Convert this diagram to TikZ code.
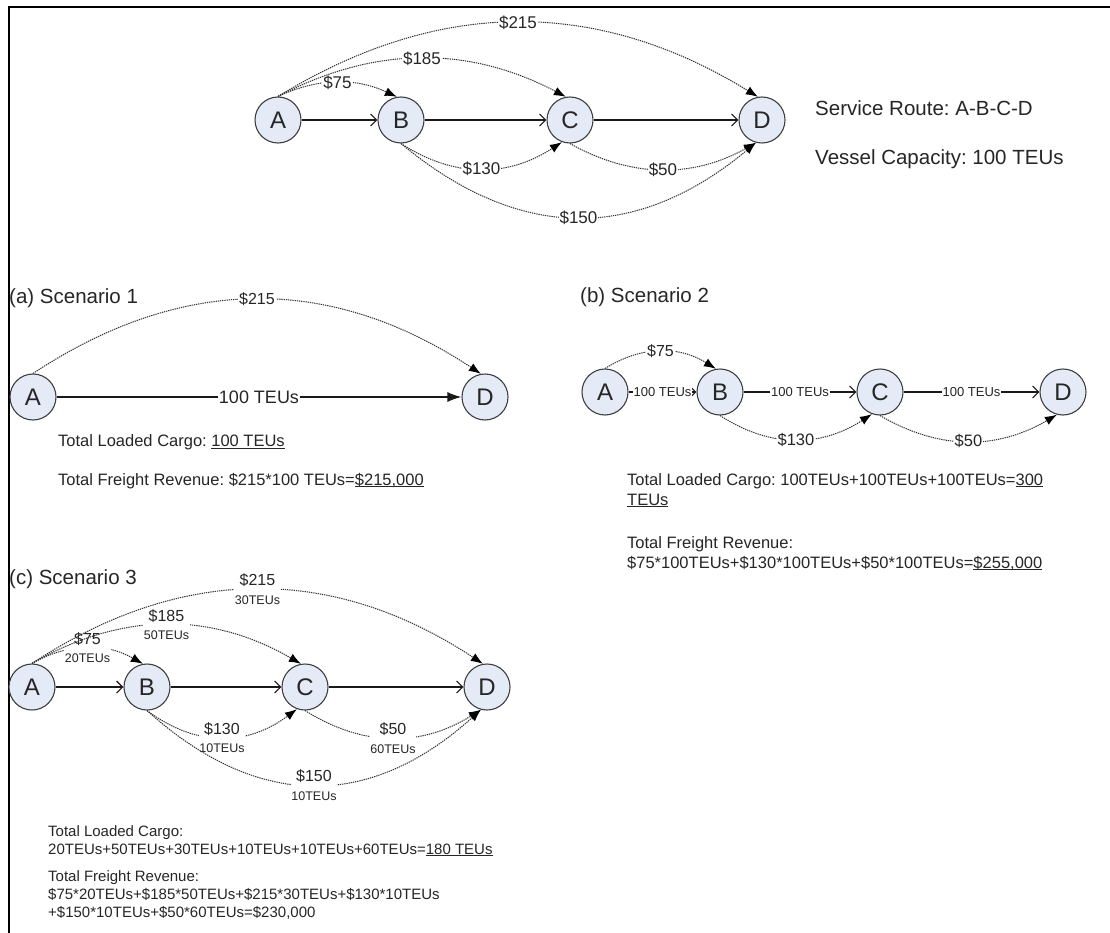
\documentclass[tikz,border=0pt]{standalone}
\usepackage{fontspec}
\setmainfont{Liberation Sans}
\usetikzlibrary{arrows.meta}
\frenchspacing

\definecolor{portfill}{RGB}{228,234,246}
\definecolor{portline}{RGB}{64,64,64}
\definecolor{ink}{RGB}{38,38,38}
\definecolor{dots}{RGB}{50,50,50}

\newcommand{\fsz}[2]{\fontsize{#1}{#2}\selectfont}
% underline sitting just under the baseline
\newcommand{\ulin}[1]{\sbox0{#1}\rlap{\rule[-2.4pt]{\wd0}{1.1pt}}\usebox0}

\tikzset{
  port/.style={circle, draw=portline, fill=portfill, line width=1.1pt,
    minimum size=46pt, inner sep=0pt, text=ink, font=\fsz{24}{28}},
  route/.style={line width=1.3pt, draw=black!90,
    -{Straight Barb[length=6pt,width=12pt,line width=1.2pt]}},
  routebold/.style={line width=1.5pt, draw=black!90, -{Latex[length=14pt,width=10pt]}},
  fare/.style={dash pattern=on 1.3pt off 0.9pt, line width=1pt, draw=dots,
    -{Latex[length=12pt,width=9pt,fill=black,color=black]}},
  tag/.style={fill=white, inner sep=1pt, text=ink, font=\fsz{17}{19}},
  tagsmall/.style={tag, font=\fsz{13}{15}},
  tagpair/.style={fill=white, inner sep=0.5pt, align=center, text=ink, font=\fsz{16}{18.5}},
  heading/.style={anchor=base west, inner sep=0pt, text=ink, font=\fsz{20.5}{24}},
  note/.style={anchor=base west, inner sep=0pt, text=ink, font=\fsz{16.5}{20}},
  notesmall/.style={note, font=\fsz{15}{18}},
}

\begin{document}
\begin{tikzpicture}[x=1pt, y=-1pt]
\fill[white] (0,0) rectangle (1110,933);
\useasboundingbox (0,0) rectangle (1110,933);

% frame
\draw[line width=2pt] (8.7,940) -- (8.7,7.3) -- (1115,7.3);

% ---------- service route ----------
\node[port] (A0) at (278,120) {A};
\node[port] (B0) at (401,120) {B};
\node[port] (C0) at (570,120) {C};
\node[port] (D0) at (762,120) {D};
\draw[route] (A0) -- (B0);
\draw[route] (B0) -- (C0);
\draw[route] (C0) -- (D0);
\draw[fare] (A0.north) .. controls +(41,-19) and +(-41,-19) .. (B0.100) node[tag,pos=0.5] {\$75};
\draw[fare] (A0.north) .. controls +(97,-51) and +(-97,-51) .. (C0.100) node[tag,pos=0.5] {\$185};
\draw[fare] (A0.north) .. controls +(161,-99) and +(-161,-99) .. (D0.100) node[tag,pos=0.5] {\$215};
\draw[fare] (B0.south) .. controls +(54,35) and +(-54,35) .. (C0.250) node[tag,pos=0.5] {\$130};
\draw[fare] (B0.south) .. controls +(119,99) and +(-119,99) .. (D0.255) node[tag,pos=0.5] {\$150};
\draw[fare] (C0.south) .. controls +(62,35) and +(-62,35) .. (D0.255) node[tag,pos=0.5] {\$50};
\node[heading] (svc) at (815,116) {Service Route: A-B-C-D};
\node[heading] (cap) at (815,165) {Vessel Capacity: 100 TEUs};

% ---------- scenario 1 ----------
\node[heading] (h1) at (9,303) {(a) Scenario 1};
\node[port] (A1) at (33,397) {A};
\node[port] (D1) at (485,397) {D};
\draw[routebold] (A1) -- (D1) node[tag,midway,font=\fsz{18}{20}] {100 TEUs};
\draw[fare] (A1.north) .. controls +(150,-99) and +(-150,-99) .. (D1.100) node[tag,pos=0.5,font=\fsz{16}{18}] {\$215};
\node[note] (s1a) at (58,446.7) {Total Loaded Cargo: \ulin{100 TEUs}};
\node[note] (s1b) at (58,485) {Total Freight Revenue: \$215*100 TEUs=\ulin{\$215,000}};

% ---------- scenario 2 ----------
\node[heading] (h2) at (580,302) {(b) Scenario 2};
\node[port] (A2) at (605,392) {A};
\node[port] (B2) at (720,392) {B};
\node[port] (C2) at (880,392) {C};
\node[port] (D2) at (1063,392) {D};
\draw[route, line width=1.1pt] (A2) -- (B2) node[tagsmall,midway] {100 TEUs};
\draw[route, line width=1.1pt] (B2) -- (C2) node[tagsmall,midway] {100 TEUs};
\draw[route, line width=1.1pt] (C2) -- (D2) node[tagsmall,midway] {100 TEUs};
\draw[fare] (A2.north) .. controls +(37,-23) and +(-37,-23) .. (B2.100) node[tag,pos=0.5,font=\fsz{16}{18}] {\$75};
\draw[fare] (B2.south) .. controls +(51,33) and +(-51,33) .. (C2.250) node[tag,pos=0.5,font=\fsz{16.5}{18}] {\$130};
\draw[fare] (C2.south) .. controls +(60,35) and +(-60,35) .. (D2.255) node[tag,pos=0.5,font=\fsz{16.5}{18}] {\$50};
\node[note] (s2a) at (627,485) {Total Loaded Cargo: 100TEUs+100TEUs+100TEUs=\ulin{300}};
\node[note] (s2b) at (627,505) {\ulin{TEUs}};
\node[note] (s2c) at (627,548) {Total Freight Revenue:};
\node[note] (s2d) at (627,568) {\$75*100TEUs+\$130*100TEUs+\$50*100TEUs=\ulin{\$255,000}};

% ---------- scenario 3 ----------
\node[heading] (h3) at (9,584) {(c) Scenario 3};
\node[port] (A3) at (32,687) {A};
\node[port] (B3) at (147,687) {B};
\node[port] (C3) at (305,687) {C};
\node[port] (D3) at (487,687) {D};
\draw[route] (A3) -- (B3);
\draw[route] (B3) -- (C3);
\draw[route] (C3) -- (D3);
\draw[fare] (A3.north) .. controls +(37,-21) and +(-37,-21) .. (B3.100)
  node[tagpair,pos=0.5] {\$75\\{\fsz{12.5}{14}20TEUs}};
\draw[fare] (A3.north) .. controls +(90,-52) and +(-90,-52) .. (C3.100)
  node[tagpair,pos=0.5] {\$185\\{\fsz{12.5}{14}50TEUs}};
\draw[fare] (A3.north) .. controls +(150,-99) and +(-150,-99) .. (D3.100)
  node[tagpair,pos=0.5] {\$215\\{\fsz{12.5}{14}30TEUs}};
\draw[fare] (B3.south) .. controls +(50,37) and +(-50,37) .. (C3.250)
  node[tagpair,pos=0.5] {\$130\\{\fsz{12.5}{14}10TEUs}};
\draw[fare] (C3.south) .. controls +(59,37) and +(-59,37) .. (D3.255)
  node[tagpair,pos=0.5] {\$50\\{\fsz{12.5}{14}60TEUs}};
\draw[fare] (B3.south) .. controls +(111,100) and +(-111,100) .. (D3.255)
  node[tagpair,pos=0.5] {\$150\\{\fsz{12.5}{14}10TEUs}};
\node[notesmall] (s3a) at (48,836) {Total Loaded Cargo:};
\node[notesmall] (s3b) at (48,854) {20TEUs+50TEUs+30TEUs+10TEUs+10TEUs+60TEUs=\ulin{180 TEUs}};
\node[notesmall] (s3c) at (48,881) {Total Freight Revenue:};
\node[notesmall] (s3d) at (48,899) {\$75*20TEUs+\$185*50TEUs+\$215*30TEUs+\$130*10TEUs};
\node[notesmall] (s3e) at (48,917) {+\$150*10TEUs+\$50*60TEUs=\$230,000};
\end{tikzpicture}
\end{document}
